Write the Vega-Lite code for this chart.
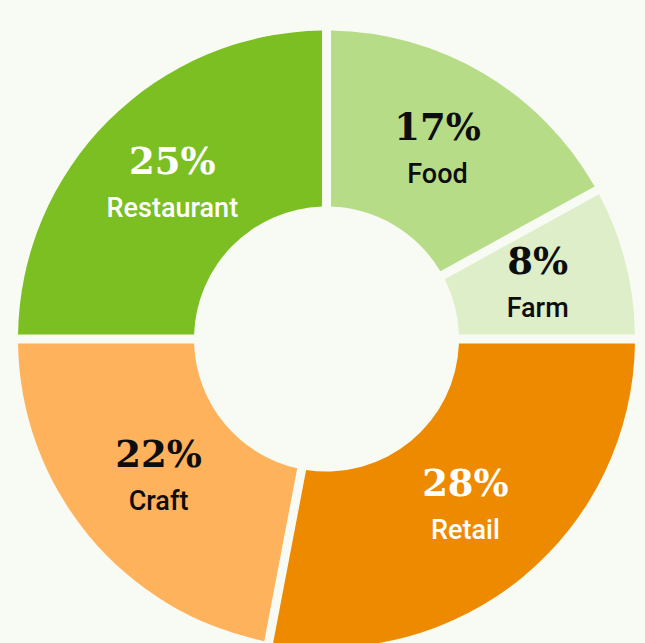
{
  "$schema": "https://vega.github.io/schema/vega-lite/v6.json",
  "width": 637,
  "height": 608,
  "autosize": {"type": "none"},
  "padding": {"left": 8, "top": 35, "right": 0, "bottom": 0},
  "background": "#f8fbf3",
  "config": {"view": {"stroke": null}},
  "data": {
    "values": [
      {"idx": 1, "category": "Food", "share": 17, "label": "17%"},
      {"idx": 2, "category": "Farm", "share": 8, "label": "8%"},
      {"idx": 3, "category": "Retail", "share": 28, "label": "28%"},
      {"idx": 4, "category": "Craft", "share": 22, "label": "22%"},
      {"idx": 5, "category": "Restaurant", "share": 25, "label": "25%"}
    ]
  },
  "encoding": {
    "theta": {"field": "share", "type": "quantitative", "stack": true},
    "order": {"field": "idx", "type": "quantitative"}
  },
  "layer": [
    {
      "mark": {"type": "arc", "outerRadius": 308.5, "innerRadius": 132.5, "padAngle": 0.027},
      "encoding": {
        "color": {
          "field": "category",
          "type": "nominal",
          "scale": {
            "domain": ["Food", "Farm", "Retail", "Craft", "Restaurant"],
            "range": ["#b7dc87", "#ddeec9", "#ee8a00", "#ffb25c", "#7bbf22"]
          },
          "legend": null
        }
      }
    },
    {
      "mark": {"type": "text", "radius": 218, "dy": -22, "font": "DejaVu Serif", "fontWeight": "bold", "fontSize": 37, "baseline": "middle", "align": "center"},
      "encoding": {
        "text": {"field": "label"},
        "color": {
          "condition": {"test": "datum.category === 'Restaurant' || datum.category === 'Retail'", "value": "#ffffff"},
          "value": "#0d0d0d"
        }
      }
    },
    {
      "mark": {"type": "text", "radius": 218, "dy": 24, "font": "Roboto", "fontWeight": 500, "fontSize": 27, "baseline": "middle", "align": "center"},
      "encoding": {
        "text": {"field": "category"},
        "color": {
          "condition": {"test": "datum.category === 'Restaurant' || datum.category === 'Retail'", "value": "#ffffff"},
          "value": "#0d0d0d"
        }
      }
    }
  ]
}
